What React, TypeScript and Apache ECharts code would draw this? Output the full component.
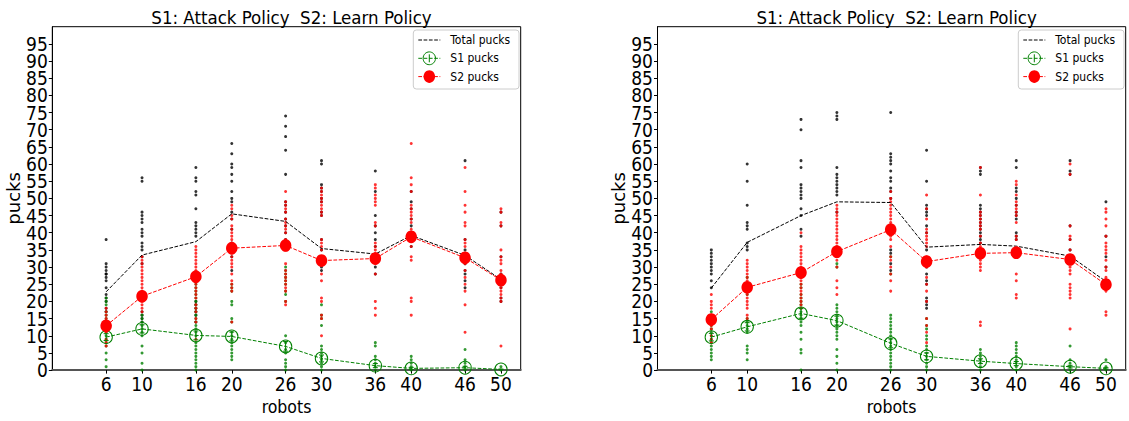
import React, { useEffect, useRef } from "react";
import * as echarts from "echarts";

// Robot counts on the x axis
const robots = [6, 10, 16, 20, 26, 30, 36, 40, 46, 50];
// Labelled ticks on the y axis
const pucksTicks = [0, 5, 10, 15, 20, 25, 30, 35, 40, 45, 50, 55, 60, 65, 70, 75, 80, 85, 90, 95];

// ---- Left panel: per-run pucks and means ----
const leftTotalDots = [
  [38, 31, 30, 29, 28, 28, 27, 26, 24, 22, 21, 20, 18, 17],
  [56, 55, 46, 45, 44, 43, 41, 40, 39, 37, 36, 35, 33, 31, 17, 16, 15, 14],
  [59, 56, 55, 52, 51, 47, 43, 42, 41, 40, 39, 20, 19, 18, 17, 16, 14],
  [66, 63, 60, 59, 57, 55, 52, 50, 49, 46, 44, 41, 37, 33, 29],
  [74, 71, 68, 64, 57, 49, 48, 46, 44, 42, 40, 38],
  [61, 60, 54, 53, 52, 50, 49, 46, 45, 38, 35, 33, 30, 29],
  [58, 52, 45, 42, 40, 38, 36, 33, 30, 28],
  [52, 49, 47, 44, 42, 40, 38, 36],
  [61, 38, 35, 31, 29, 28, 26, 24],
  [46, 42, 33, 28, 26, 24, 21, 20],
];
const leftS1Dots = [
  [21, 20, 19, 17, 16, 15, 13, 11, 10, 9, 8, 7, 5, 3, 1],
  [16, 15, 14, 13, 12, 11, 10, 7, 5, 2, 0],
  [26, 25, 24, 23, 22, 21, 20, 19, 18, 17, 16, 15, 14, 13, 12, 11, 10, 8, 7, 6, 5, 4, 3, 2, 1, 0],
  [25, 24, 23, 20, 19, 15, 14, 11, 10, 9, 8, 7, 6, 5, 4, 3],
  [30, 29, 28, 27, 26, 25, 23, 22, 20, 10, 8, 6, 5, 3, 2, 1, 0],
  [19, 16, 15, 13, 7, 6, 5, 4, 3, 2, 1, 0],
  [8, 7, 4, 3, 2, 1, 0],
  [4, 3, 2, 1, 0],
  [6, 3, 2, 1, 0],
  [1, 0],
];
const leftS2Dots = [
  [18, 17, 16, 15, 14, 13, 12, 11, 9, 8, 7],
  [33, 32, 31, 30, 29, 28, 27, 26, 25, 24, 23, 22, 21, 20, 19, 18, 17],
  [36, 35, 34, 33, 32, 31, 30, 29, 28, 26, 25, 24, 23, 22, 21, 19, 18, 17, 15, 14, 9],
  [48, 47, 45, 44, 42, 41, 40, 39, 38, 37, 36, 35, 34, 33, 32, 31, 30, 28, 26, 25, 24, 23, 14],
  [52, 49, 48, 47, 46, 44, 43, 42, 41, 40, 38, 37, 36, 35, 31, 29, 28, 27, 26, 25, 24, 23, 20, 19],
  [53, 52, 51, 50, 49, 48, 47, 46, 45, 38, 37, 36, 35, 31, 28, 26, 21, 20, 16, 15, 10],
  [54, 53, 51, 50, 49, 48, 43, 42, 37, 36, 35, 34, 33, 31, 28, 20, 18, 16],
  [66, 56, 54, 52, 48, 47, 46, 45, 44, 43, 41, 39, 38, 36, 33, 32, 21, 20, 16],
  [59, 52, 48, 46, 43, 42, 38, 37, 36, 34, 32, 31, 29, 27, 25, 23, 19, 11],
  [47, 46, 43, 42, 35, 33, 32, 31, 29, 28, 27, 25, 24, 23, 22, 21, 20, 7],
];
const leftTotalMean = [22.8, 33.5, 37.4, 45.5, 43.3, 35.4, 33.8, 39.2, 33.4, 26.4];
const leftS1Mean = [9.6, 12.0, 10.1, 9.8, 6.9, 3.4, 1.3, 0.5, 0.7, 0.2];
const leftS2Mean = [12.9, 21.5, 27.2, 35.5, 36.3, 31.9, 32.5, 38.8, 32.7, 26.2];
const leftS1Err = [1.0, 1.2, 1.3, 1.3, 1.4, 1.0, 0.6, 0.3, 0.4, 0.1];
const leftS2Err = [1.0, 1.2, 1.3, 1.4, 1.4, 1.4, 1.4, 1.4, 1.4, 1.2];

// ---- Right panel: per-run pucks and means ----
const rightTotalDots = [
  [35, 34, 33, 32, 31, 30, 29, 28, 26, 24],
  [60, 55, 48, 43, 42, 41, 37, 36, 35],
  [73, 70, 61, 59, 54, 53, 52, 51, 50, 47, 45, 41, 39],
  [75, 74, 73, 59, 57, 56, 55, 54, 53, 52, 51, 46],
  [75, 63, 62, 61, 60, 58, 56, 55, 53, 52, 50, 35, 34, 31, 29],
  [64, 55, 48, 47, 46, 45, 42, 40, 35, 30, 28, 26, 25, 21, 20, 19, 18],
  [59, 58, 57, 48, 47, 46, 45, 44, 43, 42, 41, 40, 39, 38, 37],
  [61, 59, 53, 52, 50, 48, 46, 45, 44, 40, 39, 38],
  [61, 58, 57, 42, 38, 35],
  [49, 39, 33, 30],
];
const rightS1Dots = [
  [17, 16, 15, 14, 13, 12, 11, 10, 9, 8, 7, 6, 5, 4, 3],
  [27, 22, 15, 14, 13, 12, 11, 7, 6, 5, 3],
  [25, 24, 22, 21, 20, 19, 18, 17, 16, 15, 14, 13, 11, 9, 6, 5, 0],
  [31, 30, 19, 18, 17, 16, 15, 14, 13, 12, 11, 10, 9, 6, 4, 2, 0],
  [33, 28, 16, 15, 14, 13, 12, 11, 10, 9, 8, 7, 6, 5, 4, 3, 2, 1, 0],
  [15, 13, 12, 10, 9, 7, 6, 5, 4, 3, 2, 1, 0],
  [6, 5, 4, 3, 2, 1, 0],
  [8, 7, 6, 5, 4, 3, 2, 1, 0],
  [7, 3, 2, 1, 0],
  [3, 1, 0],
];
const rightS2Dots = [
  [22, 20, 19, 18, 16, 15, 14, 13, 12, 10, 9, 8],
  [32, 31, 30, 29, 28, 27, 26, 25, 24, 23, 22, 21, 20, 19, 18, 16, 15],
  [40, 36, 35, 34, 33, 32, 31, 30, 29, 28, 27, 26, 25, 24, 23, 22, 21, 20, 19, 18],
  [48, 47, 46, 45, 44, 43, 42, 41, 40, 39, 38, 37, 36, 35, 33, 32, 30, 26, 24, 22],
  [52, 50, 49, 48, 47, 46, 45, 44, 43, 42, 41, 40, 39, 38, 36, 33, 32, 30, 28, 26, 23],
  [51, 47, 44, 41, 40, 39, 38, 37, 36, 33, 30, 27, 25, 23, 20, 15, 13, 11, 8],
  [59, 51, 46, 45, 44, 43, 42, 41, 39, 37, 36, 35, 34, 33, 32, 31, 30, 29, 14, 13],
  [55, 54, 51, 49, 48, 47, 46, 45, 43, 39, 38, 35, 34, 33, 28, 26, 22, 21],
  [60, 57, 42, 39, 38, 35, 33, 31, 30, 29, 28, 25, 24, 23, 22, 21, 12],
  [47, 46, 44, 42, 39, 37, 36, 35, 34, 32, 30, 29, 27, 26, 25, 24, 23, 17, 16],
];
const rightTotalMean = [23.9, 37.2, 45.0, 49.0, 48.8, 35.8, 36.6, 36.1, 33.2, 25.8];
const rightS1Mean = [9.6, 12.6, 16.5, 14.4, 7.8, 4.0, 2.6, 1.9, 1.0, 0.5];
const rightS2Mean = [14.7, 24.1, 28.4, 34.5, 40.9, 31.6, 34.0, 34.2, 32.2, 24.9];
const rightS1Err = [1.1, 1.2, 1.4, 1.3, 1.3, 1.0, 0.7, 0.6, 0.4, 0.2];
const rightS2Err = [1.0, 1.2, 1.3, 1.4, 1.4, 1.4, 1.4, 1.4, 1.4, 1.2];

const chartTitle = "S1: Attack Policy  S2: Learn Policy";
const legendNames = ["Total pucks", "S1 pucks", "S2 pucks"];

const FONT = "'DejaVu Sans Condensed', 'DejaVu Sans', sans-serif";
const BLACK = "#000000";
const RED = "#ff0000";
const GREEN = "#008000";
const DASH = [3.7, 1.6];

type Panel = {
  totalDots: number[][];
  s1Dots: number[][];
  s2Dots: number[][];
  totalMean: number[];
  s1Mean: number[];
  s2Mean: number[];
  s1Err: number[];
  s2Err: number[];
};

const panels: Panel[] = [
  {
    totalDots: leftTotalDots, s1Dots: leftS1Dots, s2Dots: leftS2Dots,
    totalMean: leftTotalMean, s1Mean: leftS1Mean, s2Mean: leftS2Mean,
    s1Err: leftS1Err, s2Err: leftS2Err,
  },
  {
    totalDots: rightTotalDots, s1Dots: rightS1Dots, s2Dots: rightS2Dots,
    totalMean: rightTotalMean, s1Mean: rightS1Mean, s2Mean: rightS2Mean,
    s1Err: rightS1Err, s2Err: rightS2Err,
  },
];

// Plot-area boxes (pixels)
const grids = [
  { left: 52.3, top: 26.7, width: 468.4, height: 349 },
  { left: 657.5, top: 26.7, width: 468.2, height: 349 },
];

const flatten = (cols: number[][]) =>
  cols.flatMap((vals, i) => vals.map((v) => [robots[i], v]));

const errorBarSeries = (gi: number, mean: number[], err: number[], color: string, z: number) => ({
  type: "custom",
  xAxisIndex: gi,
  yAxisIndex: gi,
  silent: true,
  data: mean.map((m, i) => [robots[i], m - err[i], m + err[i]]),
  encode: { x: 0, y: [1, 2] },
  renderItem: (_params: any, api: any) => {
    const x = api.value(0);
    const top = api.coord([x, api.value(2)]);
    const bot = api.coord([x, api.value(1)]);
    const cw = 2.5;
    const style = { stroke: color, lineWidth: 1 };
    return {
      type: "group",
      children: [
        { type: "line", shape: { x1: top[0], y1: top[1], x2: bot[0], y2: bot[1] }, style },
        { type: "line", shape: { x1: top[0] - cw, y1: top[1], x2: top[0] + cw, y2: top[1] }, style },
        { type: "line", shape: { x1: bot[0] - cw, y1: bot[1], x2: bot[0] + cw, y2: bot[1] }, style },
      ],
    };
  },
  z,
});

// Legend box drawn in the top-right corner of a plot area
function legendGraphic(g: { left: number; top: number; width: number; height: number }) {
  const bx = g.left + g.width - 107.4;
  const by = g.top + 3.3;
  const rows = [by + 10, by + 28.3, by + 46.6];
  const lx1 = bx + 5;
  const lx2 = bx + 27;
  const mx = (lx1 + lx2) / 2;
  const tx = bx + 37;
  const dashLine = (y: number, color: string) => ({
    type: "line",
    shape: { x1: lx1, y1: y, x2: lx2, y2: y },
    style: { stroke: color, lineWidth: 1, lineDash: DASH },
  });
  const label = (y: number, text: string) => ({
    type: "text",
    x: tx,
    y,
    style: {
      text,
      fill: BLACK,
      font: `12px ${FONT}`,
      textAlign: "left",
      textVerticalAlign: "middle",
    },
  });
  return {
    type: "group",
    z: 50,
    children: [
      {
        type: "rect",
        shape: { x: bx, y: by, width: 105.7, height: 59, r: 3 },
        style: { fill: "rgba(255,255,255,0.8)", stroke: "#cccccc", lineWidth: 1 },
      },
      dashLine(rows[0], BLACK),
      label(rows[0], legendNames[0]),
      dashLine(rows[1], GREEN),
      {
        type: "line",
        shape: { x1: mx, y1: rows[1] - 4, x2: mx, y2: rows[1] + 4 },
        style: { stroke: GREEN, lineWidth: 1 },
      },
      {
        type: "ellipse",
        shape: { cx: mx, cy: rows[1], rx: 6.2, ry: 6.4 },
        style: { fill: "none", stroke: GREEN, lineWidth: 1 },
      },
      label(rows[1], legendNames[1]),
      dashLine(rows[2], RED),
      {
        type: "ellipse",
        shape: { cx: mx, cy: rows[2], rx: 5.75, ry: 6.35 },
        style: { fill: RED },
      },
      label(rows[2], legendNames[2]),
    ],
  };
}

// The y tick labels are split over two overlaid axes (even and odd steps)
// so the tightly packed labels are all kept.
const evenTicks = pucksTicks.filter((_, i) => i % 2 === 0);
const oddTicks = pucksTicks.filter((_, i) => i % 2 === 1);

function yAxisFor(gi: number, ticks: number[], main: boolean) {
  return {
    type: "value",
    gridIndex: gi,
    position: "left",
    offset: 0,
    min: 0,
    max: 100,
    interval: 5,
    name: main ? "pucks" : "",
    nameLocation: "middle",
    nameGap: 26,
    nameTextStyle: { fontFamily: "'DejaVu Sans', sans-serif", fontSize: 18, color: BLACK },
    axisLine: { show: main, lineStyle: { color: BLACK, width: 1 } },
    axisTick: { show: true, length: 3.5, lineStyle: { color: BLACK }, customValues: ticks },
    axisLabel: {
      fontFamily: FONT,
      fontSize: 19,
      color: BLACK,
      margin: 4.5,
      customValues: ticks,
      showMinLabel: true,
      showMaxLabel: true,
    },
    splitLine: { show: false },
  };
}

function buildOption() {
  const series: any[] = [];
  panels.forEach((p, gi) => {
    const dots = (name: string, cols: number[][], color: string) => ({
      type: "scatter",
      name,
      xAxisIndex: gi,
      yAxisIndex: gi,
      symbol: "circle",
      symbolSize: 3,
      silent: true,
      itemStyle: { color },
      data: flatten(cols),
      z: 2,
    });
    series.push(dots("total runs", p.totalDots, BLACK));
    series.push(dots("S1 runs", p.s1Dots, GREEN));
    series.push(dots("S2 runs", p.s2Dots, RED));
    series.push({
      type: "line",
      name: legendNames[0],
      xAxisIndex: gi,
      yAxisIndex: gi,
      symbol: "none",
      silent: true,
      lineStyle: { color: BLACK, width: 1, type: DASH },
      itemStyle: { color: BLACK },
      data: p.totalMean.map((v, i) => [robots[i], v]),
      z: 3,
    });
    series.push(errorBarSeries(gi, p.s1Mean, p.s1Err, GREEN, 4));
    series.push({
      type: "line",
      name: legendNames[1],
      xAxisIndex: gi,
      yAxisIndex: gi,
      symbol: "circle",
      symbolSize: [12.4, 12.8],
      showAllSymbol: true,
      silent: true,
      lineStyle: { color: GREEN, width: 1, type: DASH },
      itemStyle: { color: "none", borderColor: GREEN, borderWidth: 1, opacity: 1 },
      data: p.s1Mean.map((v, i) => [robots[i], v]),
      z: 4,
    });
    series.push(errorBarSeries(gi, p.s2Mean, p.s2Err, RED, 5));
    series.push({
      type: "line",
      name: legendNames[2],
      xAxisIndex: gi,
      yAxisIndex: gi,
      symbol: "circle",
      symbolSize: [11.5, 12.7],
      showAllSymbol: true,
      silent: true,
      lineStyle: { color: RED, width: 1, type: DASH },
      itemStyle: { color: RED },
      data: p.s2Mean.map((v, i) => [robots[i], v]),
      z: 5,
    });
  });

  return {
    animation: false,
    backgroundColor: "#ffffff",
    textStyle: { fontFamily: FONT, color: BLACK },
    title: grids.map((g) => ({
      text: chartTitle,
      left: g.left + g.width / 2,
      top: 3,
      textAlign: "center",
      textStyle: { fontFamily: FONT, fontSize: 18.5, fontWeight: "normal", color: BLACK },
    })),
    graphic: grids.map((g) => legendGraphic(g)),
    grid: grids.map((g) => ({
      ...g,
      show: true,
      borderColor: BLACK,
      borderWidth: 1,
      backgroundColor: "transparent",
      containLabel: false,
    })),
    xAxis: grids.map((_, gi) => ({
      type: "value",
      gridIndex: gi,
      min: 0,
      max: 52.2,
      name: "robots",
      nameLocation: "middle",
      nameGap: 23,
      nameTextStyle: { fontFamily: FONT, fontSize: 17.5, color: BLACK },
      axisLine: { show: true, lineStyle: { color: "#555555", width: 2 } },
      axisTick: { show: true, length: 3.5, lineStyle: { color: BLACK }, customValues: robots },
      axisLabel: {
        fontFamily: FONT,
        fontSize: 19,
        color: BLACK,
        margin: 4,
        customValues: robots,
        showMinLabel: true,
        showMaxLabel: true,
      },
      splitLine: { show: false },
    })),
    yAxis: [
      yAxisFor(0, evenTicks, true),
      yAxisFor(1, evenTicks, true),
      yAxisFor(0, oddTicks, false),
      yAxisFor(1, oddTicks, false),
    ],
    series,
  };
}

export default function App() {
  const ref = useRef<HTMLDivElement>(null);
  useEffect(() => {
    if (!ref.current) return;
    const chart = echarts.init(ref.current, undefined, { renderer: "svg" });
    chart.setOption(buildOption() as any);
    return () => chart.dispose();
  }, []);
  return (
    <div
      ref={ref}
      style={{ position: "fixed", left: 0, top: 0, width: 1129, height: 421, background: "#fff" }}
    />
  );
}
